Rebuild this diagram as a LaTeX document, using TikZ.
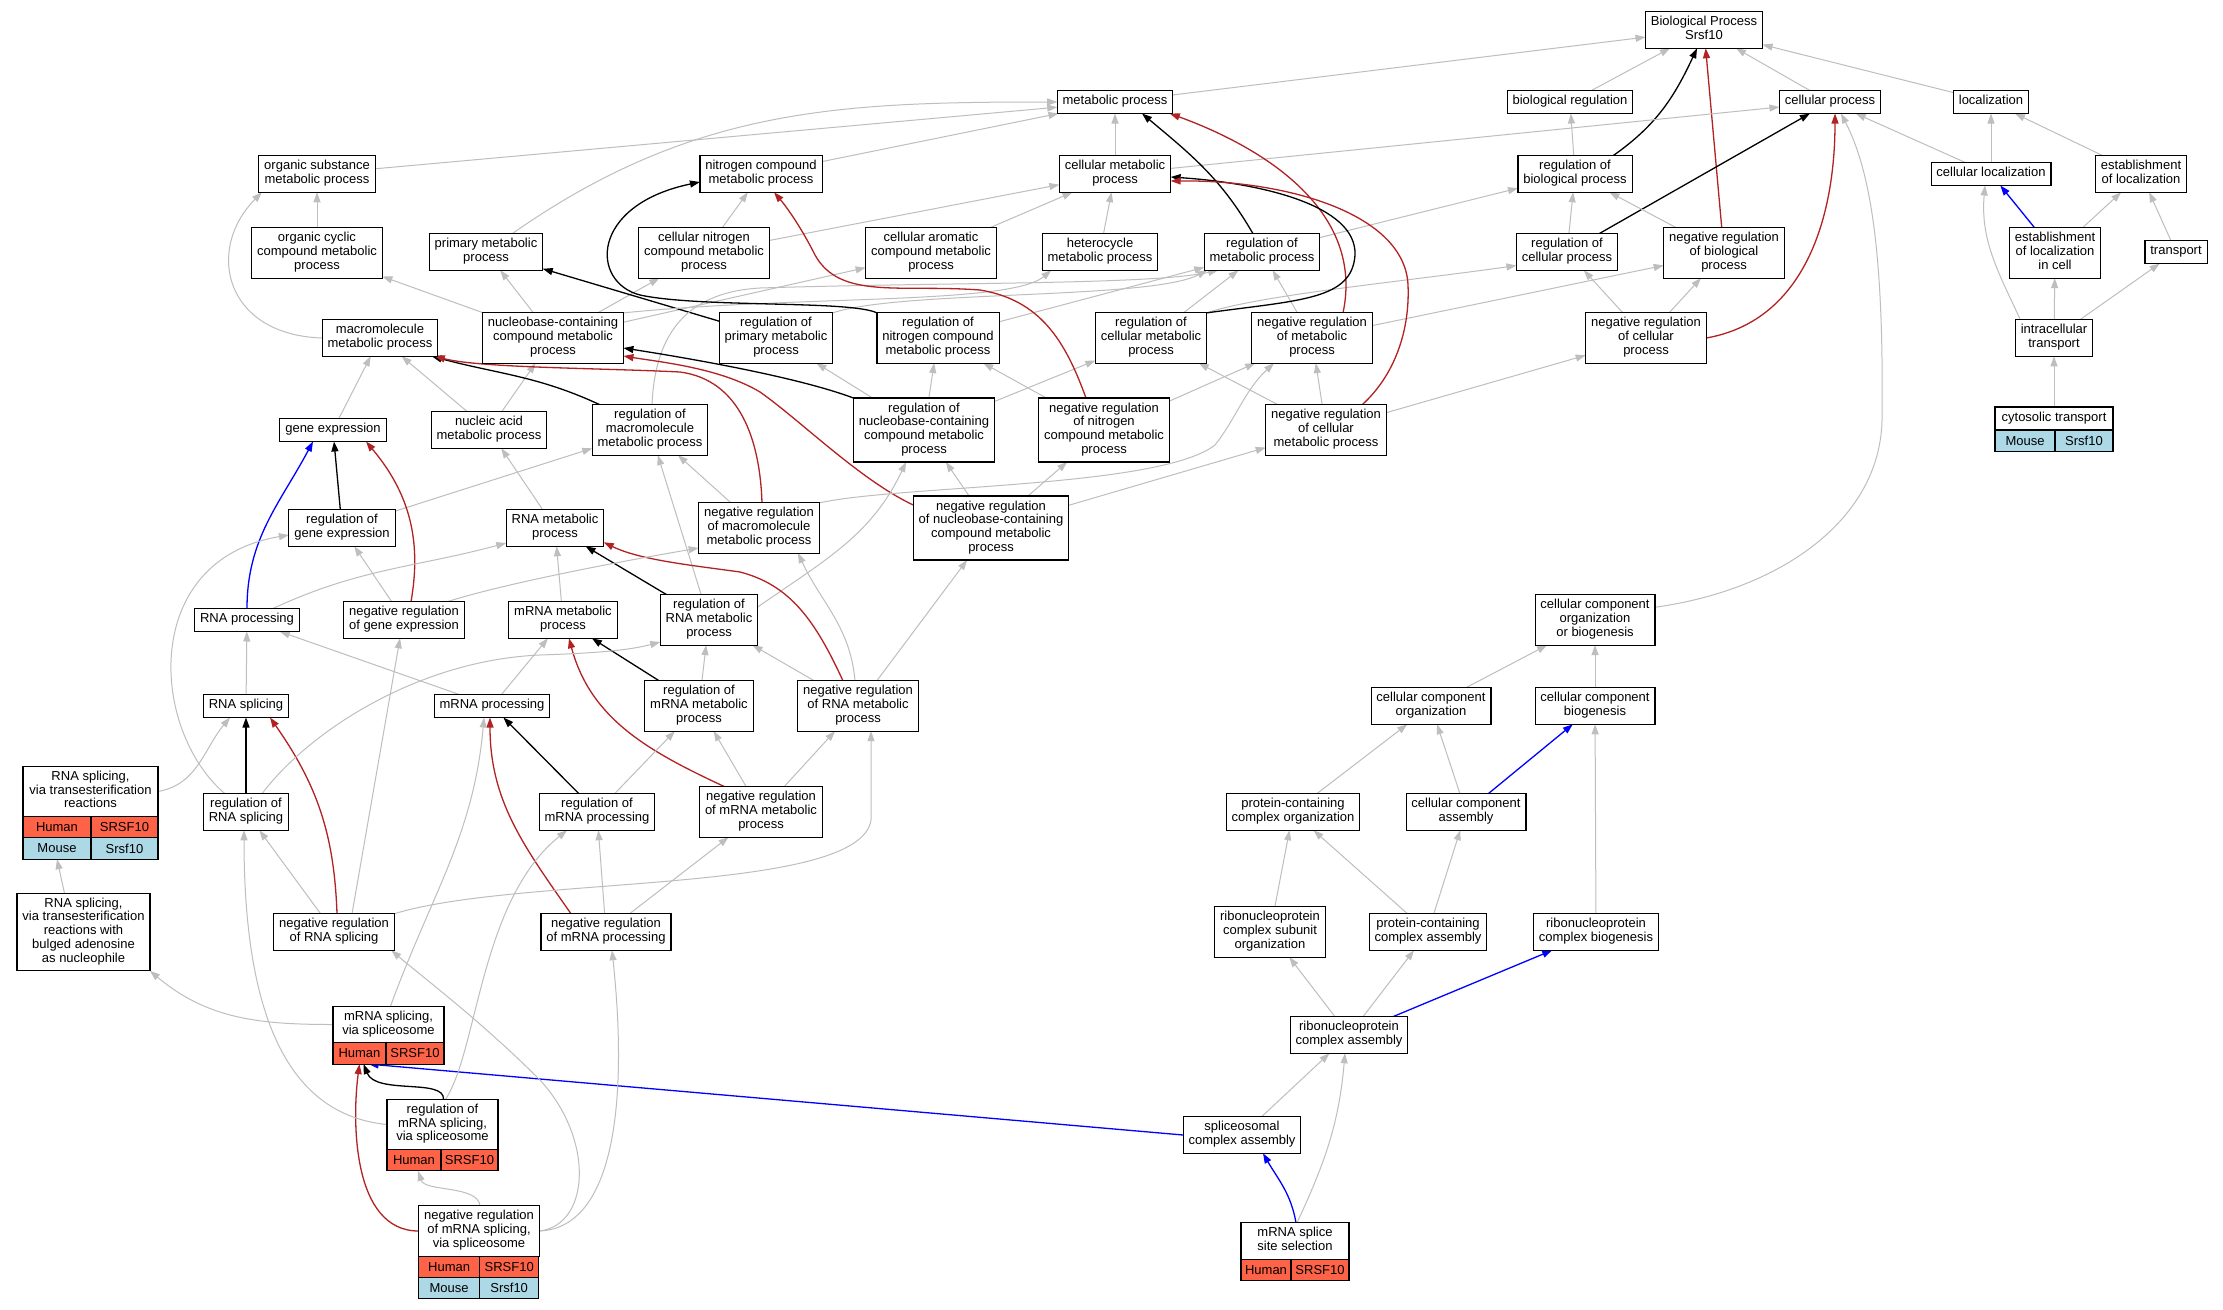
\documentclass[tikz,border=0pt]{standalone}
\usepackage{fontspec}
\setmainfont{Liberation Sans}
\usetikzlibrary{arrows.meta, backgrounds}
\definecolor{edgegray}{RGB}{190,190,190}
\definecolor{negred}{RGB}{178,34,34}
\definecolor{partblue}{RGB}{0,0,255}
\definecolor{humanfill}{RGB}{255,99,71}
\definecolor{mousefill}{RGB}{173,216,230}

\begin{document}
\begin{tikzpicture}[x=1pt, y=-1pt,
term/.style={draw, fill=white, line width=1.1pt, outer sep=0pt, align=center,
inner xsep=5.4pt, inner ysep=4.65pt, font=\fontsize{13}{13.7}\selectfont,
execute at begin node=\strut, execute at end node=\strut},
tabcell/.style={draw, line width=1.1pt, outer sep=0pt, inner sep=0pt, anchor=north west,
minimum height=21.3pt, font=\fontsize{13}{13.7}\selectfont},
human/.style={tabcell, fill=humanfill},
mouse/.style={tabcell, fill=mousefill},
golink/.style={line width=1pt, -{Triangle[length=10pt,width=7pt]}},
isa/.style={golink, draw=edgegray},
reg/.style={golink, draw=black, line width=1.3pt},
negreg/.style={golink, draw=negred, line width=1.3pt},
partof/.style={golink, draw=partblue, line width=1.3pt}]
\useasboundingbox (0,0) rectangle (2223,1309);

\node[term] (bp) at (1704,30) {Biological Process\\Srsf10};
\node[term] (metab) at (1115,102) {metabolic process};
\node[term] (bioreg) at (1570,102) {biological regulation};
\node[term] (cellproc) at (1830,102) {cellular process};
\node[term] (loc) at (1991,102) {localization};
\node[term] (orgsub) at (317,174) {organic substance\\metabolic process};
\node[term] (nitro) at (761,174) {nitrogen compound\\metabolic process};
\node[term] (cellmet) at (1115,174) {cellular metabolic\\process};
\node[term] (regbio) at (1575,174) {regulation of\\biological process};
\node[term] (cellloc) at (1991,174) {cellular localization};
\node[term] (estloc) at (2141,174) {establishment\\of localization};
\node[term] (orgcyc) at (317,253) {organic cyclic\\compound metabolic\\process};
\node[term] (primary) at (486,252) {primary metabolic\\process};
\node[term] (cellnitro) at (704,253) {cellular nitrogen\\compound metabolic\\process};
\node[term] (arom) at (931,253) {cellular aromatic\\compound metabolic\\process};
\node[term] (hetero) at (1100,252) {heterocycle\\metabolic process};
\node[term] (regmet) at (1262,252) {regulation of\\metabolic process};
\node[term] (regcell) at (1567,252) {regulation of\\cellular process};
\node[term] (negbio) at (1724,253) {negative regulation\\of biological\\process};
\node[term] (estcell) at (2055,253) {establishment\\of localization\\in cell};
\node[term] (transport) at (2176,252) {transport};
\node[term] (macro) at (380,338) {macromolecule\\metabolic process};
\node[term] (nucleo) at (553,338) {nucleobase-containing\\compound metabolic\\process};
\node[term] (regprim) at (776,338) {regulation of\\primary metabolic\\process};
\node[term] (regnitro) at (938,338) {regulation of\\nitrogen compound\\metabolic process};
\node[term] (regcellmet) at (1151,338) {regulation of\\cellular metabolic\\process};
\node[term] (negmet) at (1312,338) {negative regulation\\of metabolic\\process};
\node[term] (negcell) at (1646,338) {negative regulation\\of cellular\\process};
\node[term] (intra) at (2054,338) {intracellular\\transport};
\node[term] (geneexp) at (333,430) {gene expression};
\node[term] (nucleic) at (489,430) {nucleic acid\\metabolic process};
\node[term] (regmacro) at (650,430) {regulation of\\macromolecule\\metabolic process};
\node[term] (regnucleo) at (924,430) {regulation of\\nucleobase-containing\\compound metabolic\\process};
\node[term] (negnitro) at (1104,430) {negative regulation\\of nitrogen\\compound metabolic\\process};
\node[term] (negcellmet) at (1326,430) {negative regulation\\of cellular\\metabolic process};
\node[term, minimum width=118pt] (cyto) at (2054,418.5) {cytosolic transport};
\node[mouse, minimum width=60pt] (cy-a) at (cyto.south west) {Mouse};
\node[mouse, minimum width=58pt] (cy-b) at (cy-a.north east) {Srsf10};
\node[term] (reggene) at (342,528) {regulation of\\gene expression};
\node[term] (rnamet) at (555,528) {RNA metabolic\\process};
\node[term] (negmacro) at (759,528) {negative regulation\\of macromolecule\\metabolic process};
\node[term] (negnucleo) at (991,528) {negative regulation\\of nucleobase-containing\\compound metabolic\\process};
\node[term] (rnaproc) at (247,620) {RNA processing};
\node[term] (neggene) at (404,620) {negative regulation\\of gene expression};
\node[term] (mrnamet) at (563,620) {mRNA metabolic\\process};
\node[term] (regrna) at (709,620) {regulation of\\RNA metabolic\\process};
\node[term] (ccob) at (1595,620) {cellular component\\organization\\or biogenesis};
\node[term] (rnaspl) at (246,706) {RNA splicing};
\node[term] (mrnaproc) at (492,706) {mRNA processing};
\node[term] (regmrnamet) at (699,706) {regulation of\\mRNA metabolic\\process};
\node[term] (negrna) at (858,706) {negative regulation\\of RNA metabolic\\process};
\node[term] (ccorg) at (1431,706) {cellular component\\organization};
\node[term] (ccbio) at (1595,706) {cellular component\\biogenesis};
\node[term, minimum width=135pt] (transest) at (90.5,791.5) {RNA splicing,\\via transesterification\\reactions};
\node[human, minimum width=68pt] (te-a) at (transest.south west) {Human};
\node[human, minimum width=67pt] (te-b) at (te-a.north east) {SRSF10};
\node[mouse, minimum width=68pt] (te-c) at (te-a.south west) {Mouse};
\node[mouse, minimum width=67pt] (te-d) at (te-c.north east) {Srsf10};
\node[term] (regrnaspl) at (246,812) {regulation of\\RNA splicing};
\node[term] (regmrnaproc) at (597,812) {regulation of\\mRNA processing};
\node[term] (negmrnamet) at (761,812) {negative regulation\\of mRNA metabolic\\process};
\node[term] (pcorg) at (1293,812) {protein-containing\\complex organization};
\node[term] (ccasm) at (1466,812) {cellular component\\assembly};
\node[term] (bulged) at (83.5,932) {RNA splicing,\\via transesterification\\reactions with\\bulged adenosine\\as nucleophile};
\node[term] (negrnaspl) at (334,932) {negative regulation\\of RNA splicing};
\node[term] (negmrnaproc) at (606,932) {negative regulation\\of mRNA processing};
\node[term] (rnpsub) at (1270,932) {ribonucleoprotein\\complex subunit\\organization};
\node[term] (pcasm) at (1428,932) {protein-containing\\complex assembly};
\node[term] (rnpbio) at (1596,932) {ribonucleoprotein\\complex biogenesis};
\node[term, minimum width=111pt] (mrnaspl) at (388.5,1024.5) {mRNA splicing,\\via spliceosome};
\node[human, minimum width=53pt] (ms-a) at (mrnaspl.south west) {Human};
\node[human, minimum width=58pt] (ms-b) at (ms-a.north east) {SRSF10};
\node[term] (rnpasm) at (1349,1035) {ribonucleoprotein\\complex assembly};
\node[term, minimum width=111pt] (regmrnaspl) at (442.5,1124.5) {regulation of\\mRNA splicing,\\via spliceosome};
\node[human, minimum width=54pt] (rm-a) at (regmrnaspl.south west) {Human};
\node[human, minimum width=57pt] (rm-b) at (rm-a.north east) {SRSF10};
\node[term] (splasm) at (1242,1135) {spliceosomal\\complex assembly};
\node[term, minimum width=120pt] (negmrnaspl) at (479,1231) {negative regulation\\of mRNA splicing,\\via spliceosome};
\node[human, minimum width=61pt] (nm-a) at (negmrnaspl.south west) {Human};
\node[human, minimum width=59pt] (nm-b) at (nm-a.north east) {SRSF10};
\node[mouse, minimum width=61pt] (nm-c) at (nm-a.south west) {Mouse};
\node[mouse, minimum width=59pt] (nm-d) at (nm-c.north east) {Srsf10};
\node[term, minimum width=108pt] (sss) at (1295,1241) {mRNA splice\\site selection};
\node[human, minimum width=50pt] (ss-a) at (sss.south west) {Human};
\node[human, minimum width=58pt] (ss-b) at (ss-a.north east) {SRSF10};

\begin{scope}[on background layer]
\fill[white] (0,0) rectangle (2223,1309);
\path (metab) edge[isa] (bp)
(bioreg) edge[isa] (bp)
(cellproc) edge[isa] (bp)
(loc) edge[isa] (bp)
(negbio) edge[negreg] (bp)
([xshift=38pt]regbio.north) edge[reg, out=35, in=-115] ([xshift=-7pt]bp.south);
\path (cellloc) edge[isa] (loc) edge[isa] (cellproc)
(estloc) edge[isa] (loc)
(estcell) edge[partof] (cellloc) edge[isa] (estloc)
(transport) edge[isa] (estloc)
(intra) edge[isa] (estcell) edge[isa] (transport)
([xshift=5pt]intra.north west) edge[isa, out=115, in=-95] ([xshift=-6pt]cellloc.south)
(cyto) edge[isa] (intra);
\path (regbio) edge[isa] (bioreg)
(regcell) edge[isa] (regbio) edge[reg] (cellproc)
(negbio) edge[isa] (regbio)
(negcell) edge[isa] (regcell) edge[isa] (negbio)
(negcell.east) edge[negreg, out=10, in=-90] ([xshift=5pt]cellproc.south)
(regmet) edge[isa] (regbio)
(negmet) edge[isa] (negbio)
(negcellmet) edge[isa] (negcell);
\draw[isa] (regcellmet.north east) .. controls (1260,295) and (1400,282) .. (regcell.195);
\draw[isa] (ccob.12) .. controls (1780,590) and (1880,520) .. (1882,420) .. controls (1884,250) and (1870,170) .. ([xshift=11pt]cellproc.south);
\path (orgsub) edge[isa] (metab)
(primary.35) edge[isa, out=35, in=180] (metab.west)
(nitro) edge[isa] (metab)
(cellmet) edge[isa] (metab) edge[isa] (cellproc)
([xshift=-9pt]regmet.north) edge[reg, out=120, in=-40] ([xshift=27pt]metab.south)
([xshift=31pt]negmet.north) edge[negreg, out=78, in=-20] ([xshift=-3pt]metab.south east)
(orgcyc) edge[isa] (orgsub)
(nucleo) edge[isa] (orgcyc) edge[isa] (primary) edge[isa] (cellnitro) edge[isa] (arom)
(cellnitro) edge[isa] (nitro) edge[isa] (cellmet)
(arom) edge[isa] (cellmet)
(hetero) edge[isa] (cellmet)
(nucleic) edge[isa] (nucleo) edge[isa] (macro)
(geneexp) edge[isa] (macro)
(regprim) edge[reg] (primary)
([xshift=8pt]regmacro.north west) edge[reg, out=155, in=-15] ([xshift=-6pt]macro.south east)
(regnitro) edge[isa] (regmet)
(regcellmet) edge[isa] (regmet)
(negmet) edge[isa] (regmet)
(regnucleo) edge[isa] (regprim) edge[isa] (regnitro) edge[isa] (regcellmet)
(negnitro) edge[isa] (regnitro) edge[isa] (negmet)
(negcellmet) edge[isa] (regcellmet) edge[isa] (negmet)
(negmacro) edge[isa] (regmacro)
(negnucleo) edge[isa] (regnucleo) edge[isa] (negnitro) edge[isa] (negcellmet);
\draw[isa] (macro.west) .. controls (225,335) and (205,250) .. ([xshift=3pt]orgsub.south west);
\draw[isa] (nucleo.north east) .. controls (800,295) and (1010,305) .. ([xshift=9pt]hetero.south west);
\draw[isa] (regprim.north east) .. controls (900,290) and (1150,300) .. ([xshift=3pt]regmet.south west);
\draw[isa] ([xshift=2pt]regmacro.north) .. controls (655,330) and (690,292) .. (760,288) .. controls (950,282) and (1150,285) .. ([xshift=14pt]regmet.south west);
\draw[reg] (regcellmet.north east) .. controls (1300,300) and (1352,300) .. (1355,255) .. controls (1357,205) and (1260,183) .. ([yshift=-3pt]cellmet.east);
\draw[negreg] ([xshift=36pt]negcellmet.north) .. controls (1395,375) and (1410,330) .. (1408,285) .. controls (1405,215) and (1290,180) .. ([yshift=-7pt]cellmet.east);
\draw[reg] (regnitro.north west) .. controls (850,300) and (700,308) .. (640,295) .. controls (590,282) and (590,205) .. ([yshift=-8pt]nitro.west);
\draw[negreg] ([xshift=-18pt]negnitro.north) .. controls (1065,340) and (1040,300) .. (980,290) .. controls (900,284) and (840,300) .. (815,255) .. controls (800,225) and (785,205) .. ([xshift=13pt]nitro.south);
\draw[negreg] ([xshift=3pt]negmacro.north) .. controls (760,440) and (740,380) .. (680,372) .. controls (600,368) and (480,368) .. ([xshift=-3pt]macro.south east);
\draw[negreg] ([yshift=-9pt]negnucleo.north west) .. controls (860,480) and (800,420) .. (760,392) .. controls (720,368) and (660,362) .. ([yshift=-18pt]nucleo.east);
\draw[reg] (regnucleo.north west) .. controls (800,378) and (700,360) .. ([yshift=-10pt]nucleo.east);
\draw[isa] (negmacro.north east) .. controls (900,485) and (1160,488) .. (1215,445) .. controls (1235,420) and (1245,390) .. ([xshift=-38pt]negmet.south);
\path (rnaproc.north) edge[partof, out=90, in=-118] ([xshift=-20pt]geneexp.south)
(reggene) edge[reg] (geneexp) edge[isa] (regmacro)
([xshift=7pt]neggene.north) edge[negreg, out=80, in=-50] ([xshift=33pt]geneexp.south)
(neggene) edge[isa] (reggene)
(rnamet) edge[isa] (nucleic)
([xshift=26pt]rnaproc.north) edge[isa, out=25, in=195] ([yshift=-15pt]rnamet.west)
(mrnamet) edge[isa] (rnamet)
(regrna) edge[reg] (rnamet) edge[isa] (regmacro)
([yshift=13pt]regrna.east) edge[isa, out=35, in=-115] ([xshift=-18pt]regnucleo.south)
(negrna) edge[isa] (regrna) edge[isa] (negnucleo)
([xshift=-3pt]negrna.north) edge[isa, out=95, in=-65] ([xshift=39pt]negmacro.south)
(rnaspl) edge[isa] (rnaproc)
(mrnaproc) edge[isa] (rnaproc) edge[isa] (mrnamet)
(regmrnamet) edge[reg] (mrnamet) edge[isa] (regrna)
([xshift=-36pt]negmrnamet.north) edge[negreg, out=155, in=-75] ([xshift=6pt]mrnamet.south)
(negmrnamet) edge[isa] (regmrnamet) edge[isa] (negrna)
(transest.east) edge[isa, out=10, in=-130] ([xshift=-16pt]rnaspl.south)
(regrnaspl) edge[reg] (rnaspl)
(regmrnaproc) edge[reg] (mrnaproc) edge[isa] (regmrnamet)
([xshift=3pt]negrnaspl.north) edge[negreg, out=92, in=-55] ([xshift=24pt]rnaspl.south)
(negrnaspl) edge[isa] (regrnaspl)
([xshift=18pt]negrnaspl.north) edge[isa] ([xshift=-4pt]neggene.south)
([xshift=-35pt]negmrnaproc.north) edge[negreg, out=125, in=-90] ([xshift=-2pt]mrnaproc.south)
(negmrnaproc) edge[isa] (regmrnaproc) edge[isa] (negmrnamet);
\draw[negreg] ([xshift=-15pt]negrna.north) .. controls (815,620) and (790,585) .. (740,572) .. controls (690,565) and (640,560) .. ([yshift=4pt]rnamet.south east);
\draw[isa] ([xshift=43pt]neggene.north) .. controls (500,585) and (600,565) .. ([yshift=-20pt]negmacro.west);
\draw[isa] ([xshift=-21pt]regrnaspl.north) .. controls (150,730) and (140,560) .. ([yshift=-7pt]reggene.west);
\draw[isa] ([xshift=16pt]regrnaspl.north) .. controls (310,730) and (420,660) .. (540,655) .. controls (600,653) and (630,650) .. ([yshift=-22pt]regrna.west);
\draw[isa] (negrnaspl.north east) .. controls (520,875) and (860,895) .. (871,820) -- ([xshift=13pt]negrna.south);
\path ([xshift=-19pt]bulged.north) edge[isa] (te-c.south)
(mrnaspl.west) edge[isa, out=180, in=-40] (bulged.south east)
([xshift=2pt]mrnaspl.north) edge[isa, out=70, in=-95] ([xshift=-8pt]mrnaproc.south)
(splasm.west) edge[partof] ([xshift=9pt]ms-a.south)
(splasm) edge[isa] (rnpasm)
([xshift=1pt]sss.north) edge[partof, out=100, in=-60] ([xshift=21pt]splasm.south)
([xshift=2pt]sss.north) edge[isa, out=65, in=-95] ([xshift=-4pt]rnpasm.south)
(rnpasm) edge[isa] (rnpsub) edge[isa] (pcasm) edge[partof] (rnpbio)
(rnpsub) edge[isa] (pcorg)
(pcasm) edge[isa] (pcorg) edge[isa] (ccasm)
(rnpbio) edge[isa] (ccbio)
(pcorg) edge[isa] (ccorg)
(ccasm) edge[isa] (ccorg) edge[partof] (ccbio)
(ccorg) edge[isa] (ccob)
(ccbio) edge[isa] (ccob);
\draw[reg] ([xshift=1pt]regmrnaspl.north) .. controls (445,1078) and (376,1095) .. ([xshift=4pt]ms-a.south);
\draw[negreg] (negmrnaspl.west) .. controls (352,1231) and (352,1120) .. (ms-a.south);
\draw[isa] (regmrnaspl.west) .. controls (290,1115) and (244,1020) .. ([xshift=-2pt]regrnaspl.south);
\draw[isa] ([xshift=3pt]regmrnaspl.north) .. controls (478,1050) and (480,900) .. ([xshift=-30pt]regmrnaproc.south);
\draw[isa] ([xshift=1pt]negmrnaspl.north) .. controls (478,1185) and (425,1192) .. ([xshift=4pt]rm-a.south);
\draw[isa] (negmrnaspl.east) .. controls (590,1225) and (595,1140) .. (540,1080) .. controls (480,1020) and (420,975) .. ([xshift=-3pt]negrnaspl.south east);
\draw[isa] (negmrnaspl.east) .. controls (615,1228) and (628,1100) .. ([xshift=6pt]negmrnaproc.south);
\end{scope}
\end{tikzpicture}
\end{document}
